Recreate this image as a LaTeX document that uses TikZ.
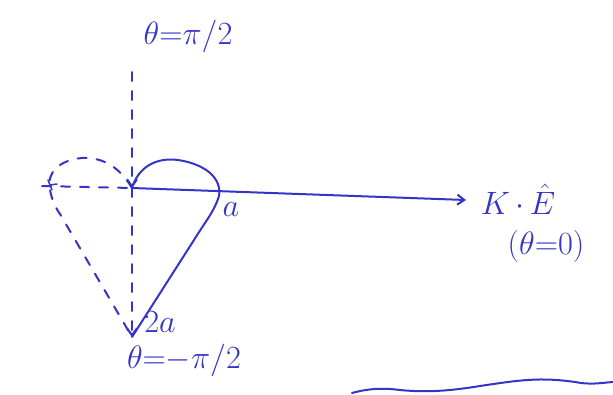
\documentclass[tikz,border=0pt]{standalone}
\usetikzlibrary{arrows.meta}
\definecolor{ink}{RGB}{52,52,200}
\newcommand{\bigtxt}[1]{\scalebox{1.3}{#1}}
\begin{document}
\begin{tikzpicture}[x=1pt,y=-1pt,
  pen/.style={ink,line width=2pt,line cap=round},
  dashpen/.style={pen,dash pattern=on 9pt off 10pt},
  tip/.style={-{Straight Barb[length=7pt,width=10pt]}},
  lab/.style={ink,font=\fontsize{24}{28}\selectfont,inner sep=1pt}]
\useasboundingbox (0,0) rectangle (613,394);
% key points
\coordinate (top) at (132,72);
\coordinate (O) at (132,188);
\coordinate (bot) at (132,337);
\coordinate (E) at (466,200);
\coordinate (L) at (42,186);
\coordinate (A) at (219,196);
% axes
\draw[dashpen,tip] (top) -- (O);
\draw[dashpen,tip] (O) -- (bot);
\draw[pen,tip] (O) -- (E);
\draw[dashpen] (L) -- (O);
\draw[pen,line width=1.5pt] (48,180) -- (52,190) (50,185) -- (57,184);
% solid half
\draw[pen] (O) .. controls (138,168) and (155,157) .. (178,160)
  .. controls (205,164) and (222,178) .. (A)
  .. controls (214,212) and (205,222) .. (194,240) -- (bot);
% dashed mirror
\draw[dashpen] (O) .. controls (120,168) and (104,157) .. (82,158)
  .. controls (60,160) and (46,172) .. (50,190)
  .. controls (52,200) and (55,207) .. (60,214) -- (bot);
% bottom stroke
\draw[pen] (352,393) .. controls (370,388) and (385,388) .. (400,390)
  .. controls (430,393) and (455,390) .. (480,386)
  .. controls (520,380) and (540,377) .. (575,382)
  .. controls (590,385) and (600,383) .. (613,382);
% labels
\node[lab] (la) at (231,210) {\bigtxt{$a$}};
\node[lab] (l2a) at (160,322) {\bigtxt{$2a$}};
\node[lab] (lt) at (188,36) {\bigtxt{$\theta{=}\pi/2$}};
\node[lab] (lb) at (184,360) {\bigtxt{$\theta{=}{-}\pi/2$}};
\node[lab] (lk) at (518,199) {\bigtxt{$K{\,\cdot\,}\hat{E}$}};
\node[lab] (l0) at (546,246) {\bigtxt{$(\theta{=}0)$}};
\end{tikzpicture}
\end{document}
